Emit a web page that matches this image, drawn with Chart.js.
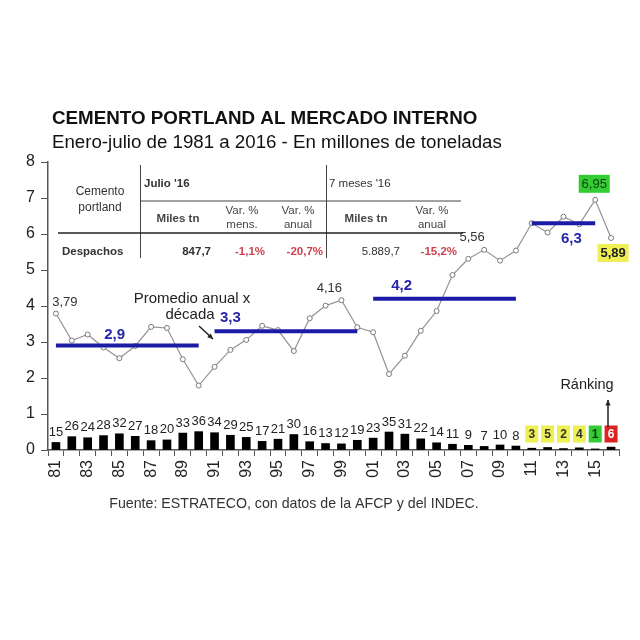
<!DOCTYPE html>
<html>
<head>
<meta charset="utf-8">
<script src="https://cdn.jsdelivr.net/npm/chart.js@4.4.1/dist/chart.umd.min.js"></script>
<style>
  html, body { margin: 0; padding: 0; background: #fff; }
  #wrap { width: 640px; height: 640px; }
</style>
</head>
<body>
<div id="wrap"><canvas id="chart" width="640" height="640"></canvas></div>
<script>
// years, shown as two digits on the axis
const years = ['81','82','83','84','85','86','87','88','89','90',
  '91','92','93','94','95','96','97','98','99','00',
  '01','02','03','04','05','06','07','08','09','10',
  '11','12','13','14','15','16'];

// despachos ene-jul, millones de toneladas
const despachos = [3.79, 3.04, 3.21, 2.85, 2.55, 2.89, 3.42, 3.39, 2.52, 1.79,
  2.31, 2.78, 3.06, 3.45, 3.33, 2.75, 3.66, 4.01, 4.16, 3.41,
  3.27, 2.11, 2.62, 3.31, 3.86, 4.86, 5.31, 5.56, 5.26, 5.54,
  6.30, 6.04, 6.48, 6.27, 6.95, 5.89];

// ranking of each year (1 = best)
const ranking = [15, 26, 24, 28, 32, 27, 18, 20, 33, 36,
  34, 29, 25, 17, 21, 30, 16, 13, 12, 19,
  23, 35, 31, 22, 14, 11, 9, 7, 10, 8,
  3, 5, 2, 4, 1, 6];

// height of the small ranking bars as drawn
const rankBars = [0.21, 0.37, 0.34, 0.40, 0.45, 0.38, 0.26, 0.28, 0.47, 0.51,
  0.48, 0.41, 0.35, 0.24, 0.30, 0.43, 0.23, 0.18, 0.17, 0.27,
  0.33, 0.50, 0.44, 0.31, 0.20, 0.16, 0.13, 0.10, 0.14, 0.11,
  0.05, 0.07, 0.04, 0.06, 0.03, 0.08];

// promedio anual por decada
const decadeAvg = [2.9, 3.3, 4.2, 6.3];
const decadeFrom = ['81', '91', '01', '11'];
const decadeTo = ['90', '00', '10', '15'];

// years whose value is written next to the point
const valueLabels = ['81', '99', '08', '15', '16'];

const yTicks = [0, 1, 2, 3, 4, 5, 6, 7, 8];

const FONT = '"Liberation Sans", Arial, sans-serif';
Chart.defaults.font.family = FONT;

const decadeSets = decadeAvg.map((v, k) => {
  const a = years.indexOf(decadeFrom[k]);
  const b = years.indexOf(decadeTo[k]);
  return {
    type: 'line',
    data: years.map((_, i) => (i >= a && i <= b ? v : null)),
    borderColor: '#1b1ba6',
    borderWidth: 4,
    pointRadius: 0,
    spanGaps: false,
    order: 0,
  };
});

const fmt = (v) => v.toFixed(2).replace('.', ',');

function txt(ctx, s, x, y, font, color, align) {
  ctx.font = font;
  ctx.fillStyle = color;
  ctx.textAlign = align || 'center';
  ctx.textBaseline = 'middle';
  ctx.fillText(s, x, y);
}

function line(ctx, x1, y1, x2, y2, w, color) {
  ctx.beginPath();
  ctx.moveTo(x1, y1);
  ctx.lineTo(x2, y2);
  ctx.lineWidth = w;
  ctx.strokeStyle = color;
  ctx.stroke();
}

function arrow(ctx, x1, y1, x2, y2, color) {
  line(ctx, x1, y1, x2, y2, 1.5, color);
  const a = Math.atan2(y2 - y1, x2 - x1);
  ctx.beginPath();
  ctx.moveTo(x2, y2);
  ctx.lineTo(x2 - 6 * Math.cos(a - 0.45), y2 - 6 * Math.sin(a - 0.45));
  ctx.lineTo(x2 - 6 * Math.cos(a + 0.45), y2 - 6 * Math.sin(a + 0.45));
  ctx.closePath();
  ctx.fillStyle = color;
  ctx.fill();
}

function box(ctx, s, cx, cy, w, h, bg, color, font) {
  ctx.fillStyle = bg;
  ctx.fillRect(cx - w / 2, cy - h / 2, w, h);
  txt(ctx, s, cx, cy + 0.5, font, color);
}

const extras = {
  id: 'extras',
  beforeDraw(chart) {
    const ctx = chart.ctx;
    ctx.save();
    ctx.fillStyle = '#fff';
    ctx.fillRect(0, 0, chart.width, chart.height);
    ctx.restore();
  },
  afterDatasetsDraw(chart) {
    const ctx = chart.ctx;
    const xs = chart.scales.x;
    const ys = chart.scales.y;
    ctx.save();

    // titles
    txt(ctx, 'CEMENTO PORTLAND AL MERCADO INTERNO', 52, 119, 'bold 18.8px ' + FONT, '#111', 'left');
    txt(ctx, 'Enero-julio de 1981 a 2016 - En millones de toneladas', 52, 143, '18.7px ' + FONT, '#111', 'left');

    // table
    line(ctx, 140.5, 165, 140.5, 258, 1, '#444');
    line(ctx, 326.5, 165, 326.5, 258, 1, '#444');
    line(ctx, 140, 201, 461, 201, 1, '#444');
    line(ctx, 58, 233, 463, 233, 1.6, '#222');
    const tb = 'bold 11.5px ' + FONT;
    const tn = '11.5px ' + FONT;
    txt(ctx, 'Cemento', 100, 192, '12px ' + FONT, '#333');
    txt(ctx, 'portland', 100, 208, '12px ' + FONT, '#333');
    txt(ctx, "Julio '16", 144, 184, tb, '#333', 'left');
    txt(ctx, "7 meses '16", 329, 184, tn, '#333', 'left');
    txt(ctx, 'Miles tn', 178, 219, tb, '#444');
    txt(ctx, 'Var. %', 242, 211, tn, '#444');
    txt(ctx, 'mens.', 242, 225, tn, '#444');
    txt(ctx, 'Var. %', 298, 211, tn, '#444');
    txt(ctx, 'anual', 298, 225, tn, '#444');
    txt(ctx, 'Miles tn', 366, 219, tb, '#444');
    txt(ctx, 'Var. %', 432, 211, tn, '#444');
    txt(ctx, 'anual', 432, 225, tn, '#444');
    txt(ctx, 'Despachos', 62, 252, tb, '#333', 'left');
    txt(ctx, '847,7', 211, 252, tb, '#333', 'right');
    txt(ctx, '-1,1%', 265, 252, tb, '#d0404e', 'right');
    txt(ctx, '-20,7%', 323, 252, tb, '#d0404e', 'right');
    txt(ctx, '5.889,7', 400, 252, tn, '#333', 'right');
    txt(ctx, '-15,2%', 457, 252, tb, '#d0404e', 'right');

    // ranking labels above the bars
    const bars = chart.getDatasetMeta(0).data;
    bars.forEach((b, i) => {
      const r = ranking[i];
      if (i >= 30) {
        let bg = '#eeee55', fg = '#333';
        if (i === years.length - 1) { bg = '#dd2222'; fg = '#fff'; }
        else if (r === 1) { bg = '#33cc33'; fg = '#113311'; }
        box(ctx, String(r), b.x, 434, 13, 17, bg, fg, 'bold 12px ' + FONT);
      } else {
        txt(ctx, String(r), b.x, b.y - 10, '13px ' + FONT, '#222');
      }
    });

    // value labels on the line
    const pts = chart.getDatasetMeta(1).data;
    valueLabels.forEach((yr) => {
      const i = years.indexOf(yr);
      const p = pts[i];
      const s = fmt(despachos[i]);
      if (yr === '15') {
        box(ctx, s, p.x - 1, p.y - 16, 31, 18, '#33cc33', '#114411', '13px ' + FONT);
      } else if (yr === '16') {
        box(ctx, s, p.x + 2, p.y + 15, 31, 18, '#eeee55', '#222', 'bold 13px ' + FONT);
      } else if (yr === '81') {
        txt(ctx, s, p.x + 9, p.y - 11, '13px ' + FONT, '#333');
      } else {
        txt(ctx, s, p.x - 12, p.y - 12, '13px ' + FONT, '#333');
      }
    });

    // decade average labels
    const dl = [[3.7, -11], [11, -13], [21.8, -13], [32.5, 16]];
    decadeAvg.forEach((v, k) => {
      const x = xs.getPixelForValue(dl[k][0]);
      const y = ys.getPixelForValue(v) + dl[k][1];
      txt(ctx, String(v).replace('.', ','), x, y, 'bold 15px ' + FONT, '#2626a8');
    });

    // notes
    txt(ctx, 'Promedio anual x', 192, 299, '15px ' + FONT, '#222');
    txt(ctx, 'década', 190, 315, '15px ' + FONT, '#222');
    arrow(ctx, 199, 326, 213, 339, '#222');
    txt(ctx, 'Ránking', 587, 385, '14.5px ' + FONT, '#222');
    arrow(ctx, 608, 427, 608, 400, '#222');

    txt(ctx, 'Fuente: ESTRATECO, con datos de la AFCP y del INDEC.', 294, 504, '14.2px ' + FONT, '#333');
    ctx.restore();
  }
};

new Chart(document.getElementById('chart'), {
  type: 'bar',
  data: {
    labels: years,
    datasets: [
      {
        type: 'bar',
        data: rankBars,
        backgroundColor: '#000',
        barThickness: 8,
        order: 2,
      },
      {
        type: 'line',
        data: despachos,
        borderColor: '#939393',
        borderWidth: 1.2,
        pointRadius: 2.5,
        pointBackgroundColor: '#fff',
        pointBorderColor: '#7a7a7a',
        pointBorderWidth: 1,
        tension: 0,
        order: 1,
      },
      ...decadeSets,
    ],
  },
  plugins: [extras],
  options: {
    responsive: false,
    animation: false,
    layout: { padding: { top: 162, left: 0, right: 21, bottom: 150 } },
    plugins: {
      legend: { display: false },
      tooltip: { enabled: false },
    },
    scales: {
      x: {
        offset: true,
        grid: { drawOnChartArea: false, offset: true, tickLength: 6, color: '#555' },
        border: { color: '#555', width: 1.5 },
        ticks: {
          autoSkip: false,
          maxRotation: 90,
          minRotation: 90,
          padding: 4,
          color: '#222',
          font: { size: 16 },
          callback: (v, i) => (i % 2 === 0 ? years[i] : ''),
        },
        afterFit: (s) => { s.height = 40; },
      },
      y: {
        min: 0,
        max: 8,
        afterBuildTicks: (s) => { s.ticks = yTicks.map((v) => ({ value: v })); },
        grid: { drawOnChartArea: false, tickLength: 7, color: '#555' },
        border: { color: '#555', width: 1.5 },
        ticks: { padding: 6, color: '#222', font: { size: 16 } },
        afterFit: (s) => { s.width = 48; },
      },
    },
  },
});
</script>
</body>
</html>
